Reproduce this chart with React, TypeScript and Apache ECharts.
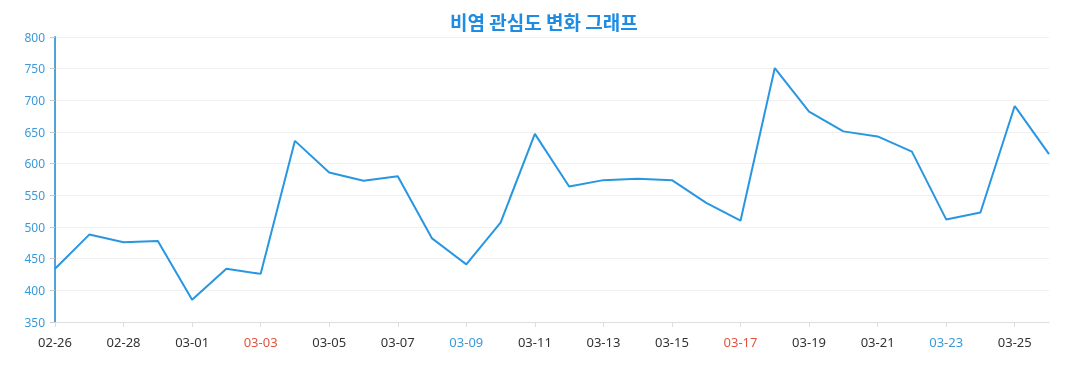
import React, { useEffect, useRef } from "react";
import * as echarts from "echarts";

const categories = [
  "02-26", "02-27", "02-28", "02-29", "03-01", "03-02", "03-03", "03-04", "03-05", "03-06",
  "03-07", "03-08", "03-09", "03-10", "03-11", "03-12", "03-13", "03-14", "03-15", "03-16",
  "03-17", "03-18", "03-19", "03-20", "03-21", "03-22", "03-23", "03-24", "03-25", "03-26",
];
const values = [
  434, 488, 476, 478, 385, 434, 426, 636, 586, 573,
  580, 482, 441, 507, 647, 564, 574, 576, 574, 538,
  510, 751, 682, 651, 643, 619, 512, 523, 691, 615,
];
const redLabels = ["03-03", "03-17"];
const blueLabels = ["03-09", "03-23"];
const titleText = "비염 관심도 변화 그래프";

export default function App() {
  const ref = useRef<HTMLDivElement>(null);
  useEffect(() => {
    if (!ref.current) return;
    const chart = echarts.init(ref.current, null, { renderer: "svg" });
    chart.setOption({
      animation: false,
      textStyle: { fontFamily: "Noto Sans" },
      title: {
        text: titleText,
        left: 445,
        top: 7,
        textStyle: {
          fontFamily: "Noto Sans CJK KR",
          fontSize: 19,
          fontWeight: "bold",
          color: "#1f8ce3",
        },
      },
      grid: { left: 55, right: 28, top: 37, bottom: 68, containLabel: false },
      xAxis: {
        type: "category",
        data: categories,
        boundaryGap: false,
        axisLine: { lineStyle: { color: "#dddddd" } },
        axisTick: { show: true, lineStyle: { color: "#dddddd" } },
        axisLabel: {
          interval: 1,
          fontSize: 13,
          margin: 13,
          fontFamily: "Noto Sans",
          color: (v: string) =>
            redLabels.includes(v) ? "#e0553f" : blueLabels.includes(v) ? "#3a9ad9" : "#333333",
        },
        splitLine: { show: false },
      },
      yAxis: {
        type: "value",
        min: 350,
        max: 800,
        interval: 50,
        axisLine: { show: true, lineStyle: { color: "#4ea3dc", width: 2 } },
        axisTick: { show: true, length: 5, lineStyle: { color: "#cccccc" } },
        axisLabel: { color: "#3a9ad9", fontSize: 12, margin: 10, fontFamily: "Noto Sans" },
        splitLine: { lineStyle: { color: "#f0f0f0" } },
      },
      series: [
        {
          type: "line",
          data: values,
          symbol: "none",
          lineStyle: { color: "#2896e0", width: 2 },
        },
      ],
    });
    return () => chart.dispose();
  }, []);
  return (
    <div
      ref={ref}
      style={{ position: "fixed", left: 0, top: 0, width: 1077, height: 390 }}
    />
  );
}
